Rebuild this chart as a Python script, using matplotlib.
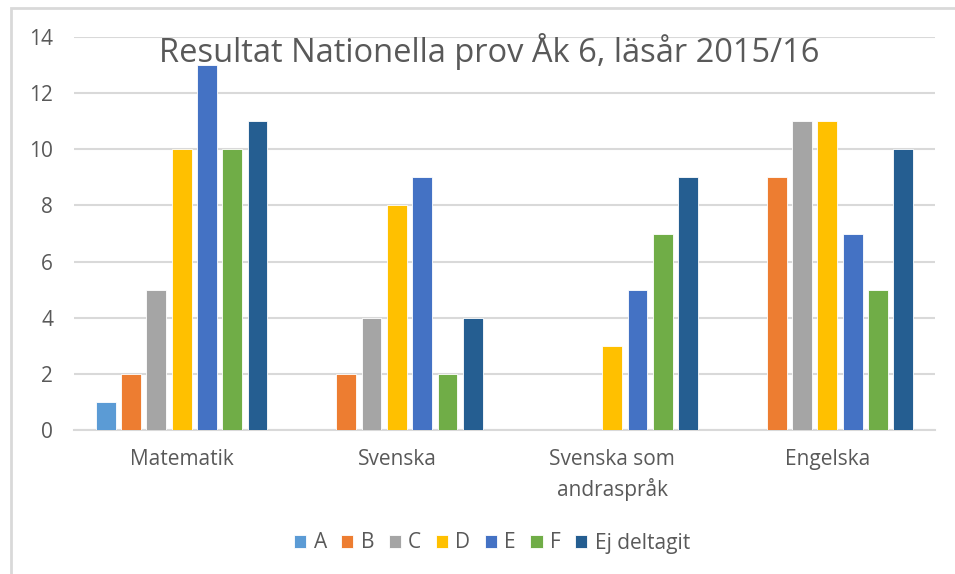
import numpy as np
import matplotlib.pyplot as plt
from matplotlib.patches import Rectangle

plt.rcParams['font.family'] = ['Open Sans', 'DejaVu Sans']

categories = ["Matematik", "Svenska", "Svenska som\nandraspråk", "Engelska"]
series_names = ["A", "B", "C", "D", "E", "F", "Ej deltagit"]
grade_a = [1, 0, 0, 0]
grade_b = [2, 2, 0, 9]
grade_c = [5, 4, 0, 11]
grade_d = [10, 8, 3, 11]
grade_e = [13, 9, 5, 7]
grade_f = [10, 2, 7, 5]
ej_deltagit = [11, 4, 9, 10]

colors = ["#5B9BD5", "#ED7D31", "#A5A5A5", "#FFC000", "#4472C4", "#70AD47", "#255E91"]
text_color = "#595959"
grid_color = "#D9D9D9"

fig = plt.figure(figsize=(9.55, 5.74), dpi=100)
# outer chart frame
fig.patches.append(Rectangle((11/955, -0.1), 1.2, 1 - 8/574 + 0.1, transform=fig.transFigure,
                             fill=False, edgecolor=grid_color, linewidth=2))
ax = fig.add_axes([74/955, 1 - 430/574, (935 - 74)/955, (430 - 37)/574])

all_series = [grade_a, grade_b, grade_c, grade_d, grade_e, grade_f, ej_deltagit]
x = np.arange(len(categories))
step = 0.1176
width = 0.092
for i, (vals, name, col) in enumerate(zip(all_series, series_names, colors)):
    ax.bar(x + (i - 3) * step, vals, width, color=col, label=name,
           edgecolor="white", linewidth=0.6, zorder=3)

ax.set_xlim(-0.5, len(categories) - 0.5)
ax.set_ylim(0, 14)
ax.set_yticks(range(0, 15, 2))
ax.set_xticks(x)
ax.set_xticklabels(categories, linespacing=1.4)
ax.yaxis.grid(True, color=grid_color, linewidth=1.5, zorder=0)
for s in ["top", "right", "left"]:
    ax.spines[s].set_visible(False)
ax.spines["bottom"].set_color(grid_color)
ax.spines["bottom"].set_linewidth(1.5)
ax.tick_params(axis="both", length=0, labelcolor=text_color, labelsize=15)
ax.tick_params(axis="x", pad=14)
ax.tick_params(axis="y", pad=15)

fig.text(489/955, 1 - 52/574, "Resultat Nationella prov Åk 6, läsår 2015/16",
         ha="center", va="center", fontsize=23.5, color=text_color)

leg = fig.legend(loc="center", bbox_to_anchor=(492/955, 1 - 543/574), ncol=7,
                 frameon=False, fontsize=15, handlelength=0.58, handleheight=0.58,
                 handletextpad=0.35, columnspacing=0.7)
for t in leg.get_texts():
    t.set_color(text_color)

fig.savefig("out.png", dpi=100)
